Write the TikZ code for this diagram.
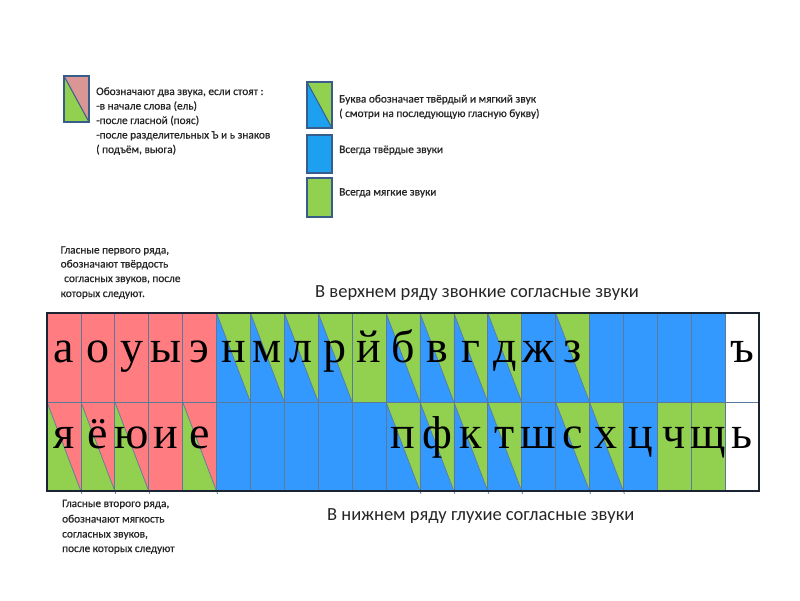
\documentclass[tikz,border=0pt]{standalone}
\usepackage{fontspec}
\setmainfont{Liberation Serif}
\newfontfamily\calfont{Carlito}
\newfontfamily\calbold[FakeBold=0.6]{Carlito}
\usetikzlibrary{calc}
\definecolor{cpink}{HTML}{FF7C80}
\definecolor{cblue}{HTML}{3399FF}
\definecolor{cgreen}{HTML}{92D050}
\definecolor{lpink}{HTML}{D99694}
\definecolor{lblue}{HTML}{1EA0F0}
\definecolor{lborder}{HTML}{385D8A}
\definecolor{gline}{HTML}{5B7A99}
\definecolor{frame}{HTML}{1A2433}
\definecolor{txt}{HTML}{262626}
\newcommand\mysplit[4]{%
 \pgfmathsetmacro\xa{47+#1*33.905}\pgfmathsetmacro\xb{\xa+33.905}%
 \pgfmathsetmacro\ya{313+#2*89}\pgfmathsetmacro\yb{\ya+89}%
 \fill[#3] (\xa,\ya) -- (\xb,\ya) -- (\xb,\yb) -- cycle;
 \fill[#4] (\xa,\ya) -- (\xa,\yb) -- (\xb,\yb) -- cycle;
 \draw[diag] (\xa,\ya) -- ($(\xb,\yb)!-3pt!(\xa,\ya)$);}
\newcommand\mysolid[3]{%
 \pgfmathsetmacro\xa{47+#1*33.905}\pgfmathsetmacro\xb{\xa+33.905}%
 \pgfmathsetmacro\ya{313+#2*89}\pgfmathsetmacro\yb{\ya+89}%
 \fill[#3] (\xa,\ya) rectangle (\xb,\yb);}
\begin{document}
\begin{tikzpicture}[x=1pt,y=-1pt,
  diag/.style={draw=gline,line width=0.7pt},
  gridline/.style={draw=gline,line width=0.7pt},
  letter/.style={font=\fontsize{46}{46}\selectfont,anchor=base,inner sep=0pt},
  small/.style={font=\calbold\fontsize{11.3}{13}\selectfont,text=txt,anchor=base west,inner sep=0pt},
  big/.style={font=\calfont\fontsize{18.5}{22}\selectfont,text=txt,anchor=base west,inner sep=0pt},
  legbox/.style={draw=lborder,line width=1.6pt}]
\useasboundingbox[fill=white] (0,0) rectangle (800,600);

% ---------- legend ----------
\fill[lpink] (64,76) -- (89,76) -- (89,122) -- cycle;
\fill[cgreen] (64,76) -- (64,122) -- (89,122) -- cycle;
\draw[draw=lborder,line width=1pt] (64,76) -- (89,122);
\node[legbox,minimum width=25pt,minimum height=46pt,inner sep=0pt] (lg1) at (76.5,99) {};
\node[small] (t1a) at (96,95) {Обозначают два звука, если стоят :};
\node[small] (t1b) at (96,109.5) {-в начале слова (ель)};
\node[small] (t1c) at (96,124) {-после гласной (пояс)};
\node[small] (t1d) at (96,138.5) {-после разделительных Ъ и ь знаков};
\node[small] (t1e) at (96,153) {( подъём, вьюга)};

\fill[cgreen] (307,82) -- (332,82) -- (332,128) -- cycle;
\fill[lblue] (307,82) -- (307,128) -- (332,128) -- cycle;
\draw[draw=lborder,line width=1pt] (307,82) -- (332,128);
\node[legbox,minimum width=25pt,minimum height=46pt,inner sep=0pt] (lg2) at (319.5,105) {};
\node[small] (t2a) at (339,102.5) {Буква обозначает твёрдый и мягкий звук};
\node[small] (t2b) at (339,117) {( смотри на последующую гласную букву)};

\node[legbox,fill=lblue,minimum width=25pt,minimum height=38pt,inner sep=0pt] (lg3) at (319.5,154) {};
\node[small] (t3) at (339,153) {Всегда твёрдые звуки};

\node[legbox,fill=cgreen,minimum width=25pt,minimum height=39pt,inner sep=0pt] (lg4) at (319.5,197.5) {};
\node[small] (t4) at (339,195.5) {Всегда мягкие звуки};

% ---------- side notes ----------
\node[small] (n1a) at (60.5,253.5) {Гласные первого ряда,};
\node[small] (n1b) at (60.5,267.5) {обозначают твёрдость};
\node[small] (n1c) at (64,282) {согласных звуков, после};
\node[small] (n1d) at (60.5,297) {которых следуют.};

\node[small] (n2a) at (62,507) {Гласные второго ряда,};
\node[small] (n2b) at (62,522.5) {обозначают мягкость};
\node[small] (n2c) at (62,537.5) {согласных звуков,};
\node[small] (n2d) at (62,552) {после которых следуют};

\node[big] (h1) at (315,297.7) {В верхнем ряду звонкие согласные звуки};
\node[big] (h2) at (327,520) {В нижнем ряду глухие согласные звуки};

% ---------- grid: top row ----------
\foreach \c in {0,...,4} {\mysolid{\c}{0}{cpink}}
\foreach \c in {5,6,7,8,10,11,12,13,15} {\mysplit{\c}{0}{cgreen}{cblue}}
\mysolid{9}{0}{cgreen}
\foreach \c in {14,16,17,18,19} {\mysolid{\c}{0}{cblue}}
\mysolid{20}{0}{white}
% ---------- grid: bottom row ----------
\foreach \c in {0,1,2,4} {\mysplit{\c}{1}{cpink}{cgreen}}
\mysolid{3}{1}{cpink}
\foreach \c in {5,...,9,14,17} {\mysolid{\c}{1}{cblue}}
\foreach \c in {10,11,12,13,15,16} {\mysplit{\c}{1}{cgreen}{cblue}}
\foreach \c in {18,19} {\mysolid{\c}{1}{cgreen}}
\mysolid{20}{1}{white}

% grid lines
\foreach \c in {1,...,20} {\draw[gridline] ({47+\c*33.905},313) -- ({47+\c*33.905},491);}
\draw[gridline] (47,402) -- (759,402);
\node[draw=frame,line width=1.3pt,minimum width=712pt,minimum height=178pt,inner sep=0pt] (grid) at (403,402) {};

% letters
\foreach \l [count=\i from 0] in {а,о,у,ы,э,н,м,л,р,й,б,в,г,д,ж,з,{},{},{},{},ъ}
  {\node[letter] (top-\i) at ({47+(\i+0.5)*33.905},362) {\l};}
\foreach \l [count=\i from 0] in {я,ё,ю,и,е,{},{},{},{},{},п,ф,к,т,ш,с,х,ц,ч,щ,ь}
  {\node[letter] (bot-\i) at ({47+(\i+0.5)*33.905},448) {\l};}
\end{tikzpicture}
\end{document}
